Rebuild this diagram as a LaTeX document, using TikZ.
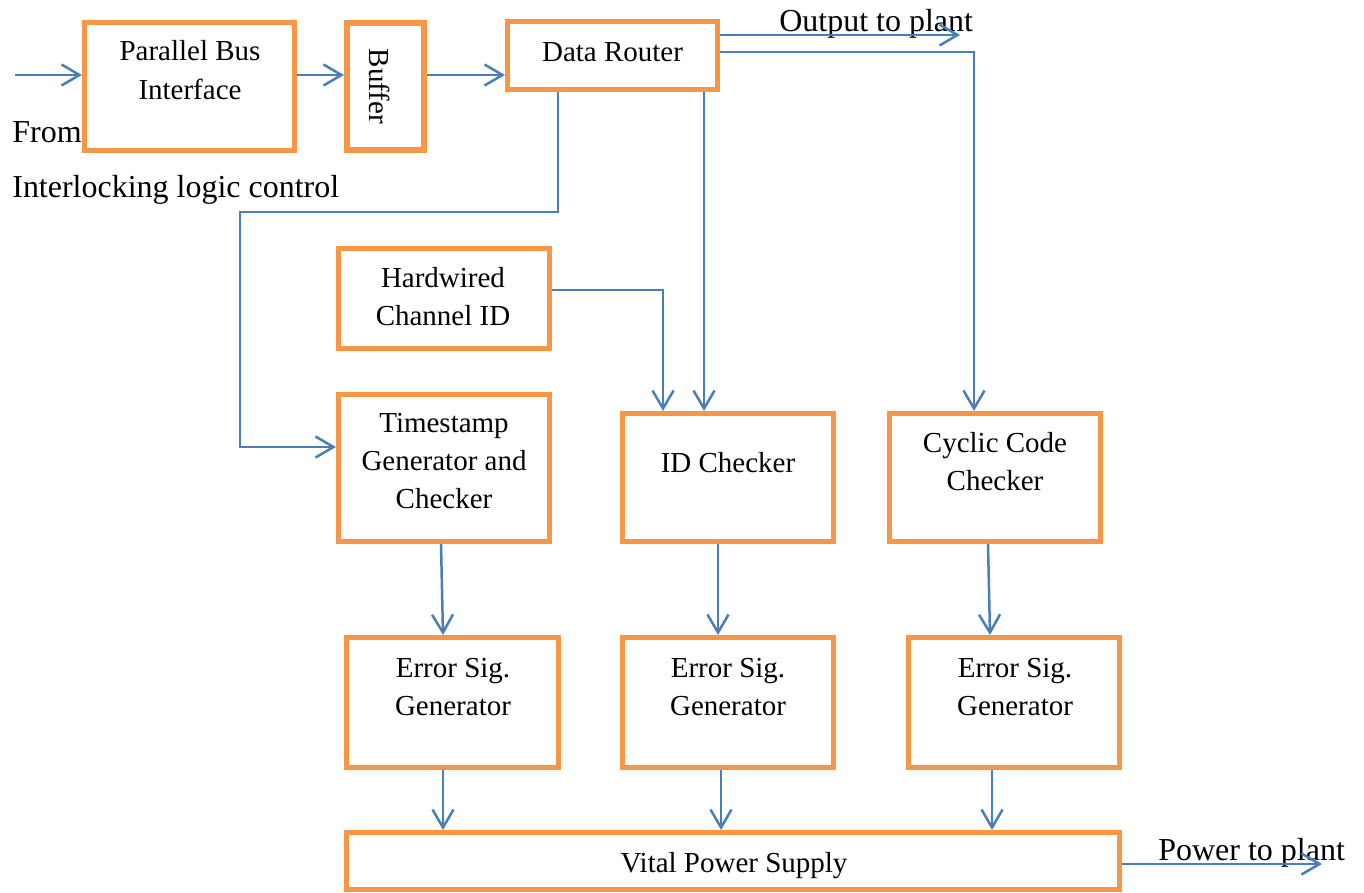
\documentclass[tikz,border=0pt]{standalone}
\usepackage{fontspec}
\setmainfont{Liberation Serif}
\usetikzlibrary{arrows.meta}
\definecolor{boxorange}{HTML}{F79646}
\definecolor{linkblue}{HTML}{4A7EBB}
% stacked, centred lines whose reference point is the first baseline
\newcommand{\boxlines}[1]{\begin{tabular}[t]{@{}c@{}}#1\end{tabular}}
\tikzset{
  block/.style={draw=boxorange, line width=0.1cm, fill=white, rectangle, inner sep=0pt},
  boxtext/.style={inner sep=0pt, anchor=base, font=\fontsize{16.5}{21.9}\selectfont},
  sidetext/.style={inner sep=0pt, anchor=base west, font=\fontsize{18.2}{22}\selectfont},
  link/.style={draw=linkblue, line width=0.05cm, line join=miter},
  flow/.style={link, -{Straight Barb[length=0.36cm, width=0.42cm, line width=0.05cm]}}
}
\begin{document}
\begin{tikzpicture}[x=0.02cm, y=-0.02cm]
\useasboundingbox (0,0) rectangle (1364,892);

% blocks
\node[block, minimum width=4.2cm,  minimum height=2.56cm] (pbi) at (189.5,86.5) {};
\node[block, line width=0.12cm, minimum width=1.54cm, minimum height=2.54cm] (buf) at (385.5,86.5) {};
\node[block, minimum width=4.2cm,  minimum height=1.36cm] (dr)  at (612.5,55.5) {};
\node[block, minimum width=4.22cm, minimum height=2.0cm]  (hw)  at (444,298.5) {};
\node[block, minimum width=4.22cm, minimum height=2.94cm] (ts)  at (444,468) {};
\node[block, minimum width=4.22cm, minimum height=2.56cm] (idc) at (728,477.5) {};
\node[block, minimum width=4.22cm, minimum height=2.56cm] (ccc) at (995,477.5) {};
\node[block, minimum width=4.24cm, minimum height=2.6cm]  (es1) at (452.5,702.5) {};
\node[block, minimum width=4.22cm, minimum height=2.6cm]  (es2) at (728,702.5) {};
\node[block, minimum width=4.22cm, minimum height=2.6cm]  (es3) at (1014,702.5) {};
\node[block, minimum width=15.46cm, minimum height=1.14cm] (vps) at (733,861) {};

% block captions
\node[boxtext] (pbi-t) at (190,61)  {\boxlines{Parallel Bus\\Interface}};
\node[inner sep=0pt, rotate=-90, font=\fontsize{16.5}{21.9}\selectfont] (buf-t) at (380,86.5) {Buffer};
\node[boxtext] (dr-t)  at (612.5,62) {Data Router};
\node[boxtext] (hw-t)  at (443,287) {\boxlines{Hardwired\\Channel ID}};
\node[boxtext] (ts-t)  at (444,432) {\boxlines{Timestamp\\Generator and\\Checker}};
\node[boxtext] (idc-t) at (728,472) {ID Checker};
\node[boxtext] (ccc-t) at (995,452) {\boxlines{Cyclic Code\\Checker}};
\node[boxtext] (es1-t) at (453,677) {\boxlines{Error Sig.\\Generator}};
\node[boxtext] (es2-t) at (728,677) {\boxlines{Error Sig.\\Generator}};
\node[boxtext] (es3-t) at (1015,677) {\boxlines{Error Sig.\\Generator}};
\node[boxtext] (vps-t) at (734,872) {Vital Power Supply};

% free labels
\node[sidetext] (from)  at (12,142) {From};
\node[sidetext] (ilc)   at (12,197) {Interlocking logic control};
\node[sidetext] (outl)  at (779,32) {Output to plant};
\node[sidetext] (powl)  at (1158,860) {Power to plant};

% routing points
\coordinate (in)   at (15,75);
\coordinate (outp) at (960,35);
\coordinate (cyc)  at (974,52);
\coordinate (idr)  at (704,0);
\coordinate (tsr)  at (558,212);
\coordinate (tsl)  at (240,447);
\coordinate (hwr)  at (663,290);
\coordinate (powp) at (1322,864);

% input chain
\draw[flow] (in) -- (in -| pbi.west);
\draw[flow] (in -| pbi.east) -- (in -| buf.west);
\draw[flow] (in -| buf.east) -- (in -| dr.west);

% data router outputs
\draw[flow] (outp -| dr.east) -- (outp);
\draw[flow] (cyc -| dr.east) -- (cyc) -- (cyc |- ccc.north);
\draw[flow] (idr |- dr.south) -- (idr |- idc.north);
\draw[flow] (tsr |- dr.south) -- (tsr) -| (tsl) -- (tsl -| ts.west);
\draw[flow] (hwr -| hw.east) -- (hwr) -- (hwr |- idc.north);

% checkers to error signal generators
\draw[flow] (441,0 |- ts.south) -- (443,0 |- es1.north);
\draw[flow] (718,0 |- idc.south) -- (718,0 |- es2.north);
\draw[flow] (988,0 |- ccc.south) -- (990,0 |- es3.north);

% error signal generators to the power supply
\draw[flow] (443,0 |- es1.south) -- (443,0 |- vps.north);
\draw[flow] (721,0 |- es2.south) -- (721,0 |- vps.north);
\draw[flow] (992,0 |- es3.south) -- (992,0 |- vps.north);

% power output
\draw[flow] (powp -| vps.east) -- (powp);
\end{tikzpicture}
\end{document}
